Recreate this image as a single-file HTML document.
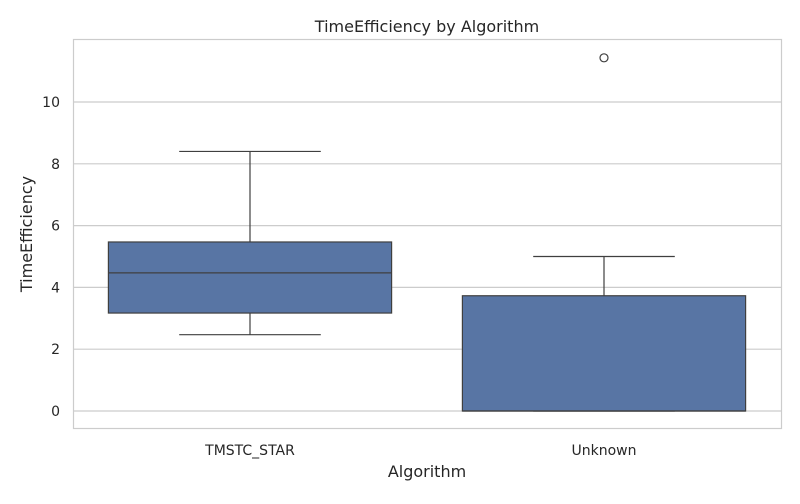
<!DOCTYPE html>
<html><head><meta charset="utf-8"><style>
body{margin:0;background:#fff;font-family:"DejaVu Sans","Liberation Sans",sans-serif;}
svg text{font-family:"DejaVu Sans","Liberation Sans",sans-serif;}
</style></head><body>
<svg id="chart" width="800" height="500" xmlns="http://www.w3.org/2000/svg">
<rect width="800" height="500" fill="#fff"/>
<g id="grid"></g>
<g id="boxes"></g>
<rect x="73.5" y="39.5" width="708" height="389" fill="none" stroke="#cccccc" stroke-width="1.2"/>
<text x="427" y="32" text-anchor="middle" font-size="16" fill="#262626">TimeEfficiency by Algorithm</text>
<text x="427" y="477" text-anchor="middle" font-size="16" fill="#262626">Algorithm</text>
<text transform="translate(32,234) rotate(-90)" text-anchor="middle" font-size="16" fill="#262626">TimeEfficiency</text>
</svg>
<script>
const categories=["TMSTC_STAR","Unknown"];
const q1=[3.17,0];
const medians=[4.47,0];
const q3=[5.47,3.73];
const whiskLo=[2.47,0];
const whiskHi=[8.4,5.0];
const outliers=[[],[11.43]];
const yTicks=[0,2,4,6,8,10];
const NS="http://www.w3.org/2000/svg";
const L=73,R=781,T=39,B=428;
function y(v){return 411-v*30.9;}
const band=(R-L)/categories.length;
function xc(i){return L+band*(i+0.5);}
function mk(tag,attrs,parent){const e=document.createElementNS(NS,tag);for(const k in attrs)e.setAttribute(k,attrs[k]);parent.appendChild(e);return e;}
const grid=document.getElementById('grid'),boxes=document.getElementById('boxes');
yTicks.forEach(t=>{
 const l=mk('line',{x1:L,x2:R,y1:y(t),y2:y(t),stroke:'#cccccc','stroke-width':1.2},grid);
 
 
 const tx=mk('text',{x:L-13,y:y(t)+5,'text-anchor':'end','font-size':14,fill:'#262626'},grid);
 tx.textContent=t;
 
 
});
categories.forEach((c,i)=>{
 const cx=xc(i),w=band*0.8,cw=w/2;
 const g=mk('g',{},boxes);
 
 
 const s={stroke:'#3f3f3f','stroke-width':1.2};
 mk('line',Object.assign({x1:cx,x2:cx,y1:y(q3[i]),y2:y(whiskHi[i])},s),g);
 mk('line',Object.assign({x1:cx,x2:cx,y1:y(q1[i]),y2:y(whiskLo[i])},s),g);
 mk('line',Object.assign({x1:cx-cw/2,x2:cx+cw/2,y1:y(whiskHi[i]),y2:y(whiskHi[i])},s),g);
 mk('line',Object.assign({x1:cx-cw/2,x2:cx+cw/2,y1:y(whiskLo[i]),y2:y(whiskLo[i])},s),g);
 mk('rect',{x:cx-w/2,y:y(q3[i]),width:w,height:Math.max(0,y(q1[i])-y(q3[i])),fill:'#5875a4',stroke:'#3f3f3f','stroke-width':1.2},g);
 mk('line',Object.assign({x1:cx-w/2,x2:cx+w/2,y1:y(medians[i]),y2:y(medians[i])},s),g);
 outliers[i].forEach(o=>{
  const p=mk('circle',{cx:cx,cy:y(o),r:4,fill:'none',stroke:'#3f3f3f','stroke-width':1.2},g);
  
  
 });
 const tx=mk('text',{x:cx,y:455,'text-anchor':'middle','font-size':14,fill:'#262626'},boxes);
 tx.textContent=c;
 
 
});
</script>
</body></html>
